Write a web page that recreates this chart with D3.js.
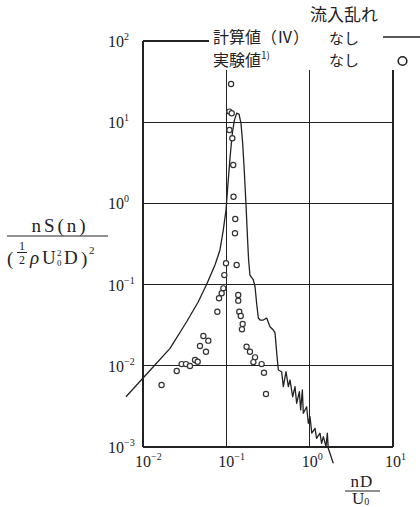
<!DOCTYPE html>
<html>
<head>
<meta charset="utf-8">
<script src="https://cdn.jsdelivr.net/npm/d3@7/dist/d3.min.js"></script>
<style>
  html, body { margin: 0; padding: 0; background: #fff; }
  svg { display: block; }
  text { font-family: 'Liberation Serif', 'DejaVu Serif', 'Noto Sans CJK JP', serif; fill: #222; }
  .jp { font-family: 'Noto Sans CJK JP', sans-serif; }
</style>
</head>
<body>
<svg id="chart" width="420" height="507"></svg>
<script>
/* ──────────────────────────────────────────────────────────────
 * DONNÉES
 * ────────────────────────────────────────────────────────────── */
var xTicks    = [1e-2, 1e-1, 1, 10];
var xTickExp  = ['\u22122', '\u22121', '0', '1'];
var yTicks    = [1e-3, 1e-2, 1e-1, 1, 10, 100];
var yTickExp  = ['\u22123', '\u22122', '\u22121', '0', '1', '2'];

/* 計算値(Ⅳ) : courbe continue */
var calcX = [0.00625, 0.0133, 0.0211, 0.0334, 0.0461, 0.0581, 0.0731, 0.0839, 0.0920, 0.0991,
             0.104, 0.111, 0.118, 0.125, 0.133, 0.142, 0.150, 0.157, 0.164, 0.172,
             0.180, 0.185, 0.192, 0.211, 0.221, 0.231, 0.242, 0.254, 0.278, 0.305,
             0.334, 0.366, 0.384, 0.406, 0.421, 0.461, 0.483, 0.520, 0.555, 0.581,
             0.625, 0.667, 0.698, 0.752, 0.780, 0.817, 0.839, 0.920, 0.964, 1.01,
             1.06, 1.16, 1.21, 1.33, 1.39, 1.46, 1.57, 1.63, 1.67, 1.75, 1.92];
var calcY = [0.00416, 0.00975, 0.0164, 0.0349, 0.0615, 0.101, 0.174, 0.267, 0.471, 0.830,
             1.61, 3.76, 7.31, 10.6, 12.9, 12.6, 9.68, 5.50, 2.58, 0.984,
             0.354, 0.201, 0.131, 0.114, 0.0942, 0.0589, 0.0388, 0.0366, 0.0366, 0.0388,
             0.0303, 0.0276, 0.0254, 0.0129, 0.00887, 0.00845, 0.00553, 0.00845, 0.00553, 0.00668,
             0.00416, 0.00553, 0.00345, 0.00481, 0.00286, 0.00504, 0.00260, 0.00313, 0.00196, 0.00236,
             0.00148, 0.00170, 0.00128, 0.00148, 0.00111, 0.00134, 0.00101, 0.00148, 0.000964, 0.000836, 0.000630];

/* 実験値 : cercles */
var expX = [0.114, 0.109, 0.116, 0.109, 0.118, 0.121, 0.122, 0.128, 0.127, 0.0991,
            0.133, 0.0946, 0.0920, 0.0879, 0.0817, 0.139, 0.139, 0.0780, 0.143, 0.149,
            0.157, 0.154, 0.0530, 0.0608, 0.0483, 0.0570, 0.175, 0.192, 0.221, 0.211,
            0.0421, 0.0453, 0.0291, 0.0328, 0.0366, 0.265, 0.283, 0.0254, 0.0167, 0.299];
var expY = [29.5, 13.5, 12.9, 8.02, 6.34, 2.97, 1.21, 0.643, 0.429, 0.183,
            0.174, 0.131, 0.0899, 0.0782, 0.0678, 0.0745, 0.0634, 0.0463, 0.0463, 0.0410,
            0.0327, 0.0281, 0.0233, 0.0204, 0.0175, 0.0149, 0.0172, 0.0149, 0.0127, 0.0111,
            0.0118, 0.0112, 0.0105, 0.0105, 0.00995, 0.0105, 0.00822, 0.00863, 0.00581, 0.00450];

(function () {
  'use strict';

  var svg = d3.select('#chart');
  var ink = '#222';

  /* ──────────────────────────────────────────────────────────────
   * ÉCHELLES
   * ────────────────────────────────────────────────────────────── */
  var x = d3.scaleLog().domain([1e-2, 10]).range([143, 393]);
  var y = d3.scaleLog().domain([1e-3, 100]).range([447, 41]);

  var gridTop   = 70;    /* les verticales commencent sous la légende */
  var topLineTo = 209;   /* ligne 10^2 interrompue par la légende */

  /* ──────────────────────────────────────────────────────────────
   * GRILLE
   * ────────────────────────────────────────────────────────────── */
  var grid = svg.append('g')
    .attr('stroke', ink)
    .attr('stroke-width', 1.2)
    .attr('shape-rendering', 'crispEdges');

  grid.selectAll('line.h')
    .data(yTicks)
    .enter().append('line')
    .attr('class', 'h')
    .attr('x1', x(1e-2))
    .attr('x2', function (d) { return d === 100 ? topLineTo : x(10); })
    .attr('y1', function (d) { return y(d); })
    .attr('y2', function (d) { return y(d); });

  grid.selectAll('line.v')
    .data(xTicks)
    .enter().append('line')
    .attr('class', 'v')
    .attr('x1', function (d) { return x(d); })
    .attr('x2', function (d) { return x(d); })
    .attr('y1', function (d) { return d === 1e-2 ? y(100) : gridTop; })
    .attr('y2', y(1e-3));

  /* ──────────────────────────────────────────────────────────────
   * ÉTIQUETTES DES AXES
   * ────────────────────────────────────────────────────────────── */
  var yLab = svg.append('g').selectAll('text')
    .data(yTicks)
    .enter().append('text')
    .attr('x', 108)
    .attr('y', function (d) { return y(d) + 6; })
    .attr('font-size', 16);
  yLab.append('tspan').text('10');
  yLab.append('tspan')
    .attr('font-size', 10)
    .attr('dy', -7)
    .text(function (d, i) { return yTickExp[i]; });

  var xLab = svg.append('g').selectAll('text')
    .data(xTicks)
    .enter().append('text')
    .attr('x', function (d) { return x(d) - 8; })
    .attr('y', 467)
    .attr('font-size', 16);
  xLab.append('tspan').text('10');
  xLab.append('tspan')
    .attr('font-size', 10)
    .attr('dy', -7)
    .text(function (d, i) { return xTickExp[i]; });

  /* titre axe Y : nS(n) / (½ρU0²D)² */
  var yt = svg.append('g').attr('font-size', 19);
  yt.append('text').attr('x', 60).attr('y', 232).attr('text-anchor', 'middle')
    .attr('letter-spacing', 3).text('nS(n)');
  yt.append('line').attr('x1', 7).attr('x2', 108).attr('y1', 236).attr('y2', 236)
    .attr('stroke', ink).attr('stroke-width', 1.2);
  yt.append('text').attr('x', 7).attr('y', 265).text('(');
  yt.append('text').attr('x', 22).attr('y', 250).attr('font-size', 12).attr('text-anchor', 'middle').text('1');
  yt.append('line').attr('x1', 17).attr('x2', 27).attr('y1', 252.5).attr('y2', 252.5)
    .attr('stroke', ink).attr('stroke-width', 1);
  yt.append('text').attr('x', 22).attr('y', 264).attr('font-size', 12).attr('text-anchor', 'middle').text('2');
  yt.append('text').attr('x', 30).attr('y', 264).attr('font-style', 'italic').text('\u03c1');
  yt.append('text').attr('x', 42).attr('y', 264).text('U');
  yt.append('text').attr('x', 57).attr('y', 256).attr('font-size', 9).text('2');
  yt.append('text').attr('x', 57).attr('y', 266).attr('font-size', 9).text('0');
  yt.append('text').attr('x', 64).attr('y', 264).text('D');
  yt.append('text').attr('x', 81).attr('y', 265).text(')');
  yt.append('text').attr('x', 89).attr('y', 254).attr('font-size', 11).text('2');

  /* titre axe X : nD / U0 */
  var xt = svg.append('g').attr('font-size', 17);
  xt.append('text').attr('x', 362).attr('y', 487).attr('text-anchor', 'middle')
    .attr('letter-spacing', 1).text('nD');
  xt.append('line').attr('x1', 345).attr('x2', 380).attr('y1', 491).attr('y2', 491)
    .attr('stroke', ink).attr('stroke-width', 1.2);
  var u0 = xt.append('text').attr('x', 352).attr('y', 504);
  u0.append('tspan').text('U');
  u0.append('tspan').attr('font-size', 10).attr('dy', 1).text('0');

  /* ──────────────────────────────────────────────────────────────
   * SÉRIES
   * ────────────────────────────────────────────────────────────── */
  var calc = calcX.map(function (v, i) { return [v, calcY[i]]; });
  var line = d3.line()
    .x(function (d) { return x(d[0]); })
    .y(function (d) { return y(d[1]); });

  svg.append('path')
    .datum(calc)
    .attr('d', line)
    .attr('fill', 'none')
    .attr('stroke', ink)
    .attr('stroke-width', 1.3)
    .attr('stroke-linejoin', 'round');

  svg.append('g').selectAll('circle')
    .data(expX.map(function (v, i) { return [v, expY[i]]; }))
    .enter().append('circle')
    .attr('cx', function (d) { return x(d[0]); })
    .attr('cy', function (d) { return y(d[1]); })
    .attr('r', 2.6)
    .attr('fill', '#fff')
    .attr('stroke', '#333')
    .attr('stroke-width', 1.2);

  /* ──────────────────────────────────────────────────────────────
   * LÉGENDE
   * ────────────────────────────────────────────────────────────── */
  var lg = svg.append('g').attr('class', 'jp').attr('font-size', 15);
  lg.append('text').attr('class', 'jp').attr('x', 310).attr('y', 21).attr('font-size', 17).text('流入乱れ');
  lg.append('text').attr('class', 'jp').attr('x', 213).attr('y', 43).attr('font-size', 16).text('計算値（Ⅳ）');
  var ex = lg.append('text').attr('class', 'jp').attr('x', 213).attr('y', 66).attr('font-size', 16);
  ex.append('tspan').text('実験値');
  ex.append('tspan').attr('font-size', 10).attr('dy', -7).text('1)');
  lg.append('text').attr('class', 'jp').attr('x', 329).attr('y', 44).text('なし');
  lg.append('text').attr('class', 'jp').attr('x', 329).attr('y', 66).text('なし');
  lg.append('line').attr('x1', 383).attr('x2', 420).attr('y1', 37).attr('y2', 37)
    .attr('stroke', ink).attr('stroke-width', 1.3);
  lg.append('circle').attr('cx', 402.5).attr('cy', 61).attr('r', 4.3)
    .attr('fill', '#fff').attr('stroke', ink).attr('stroke-width', 1.6);
})();
</script>
</body>
</html>
